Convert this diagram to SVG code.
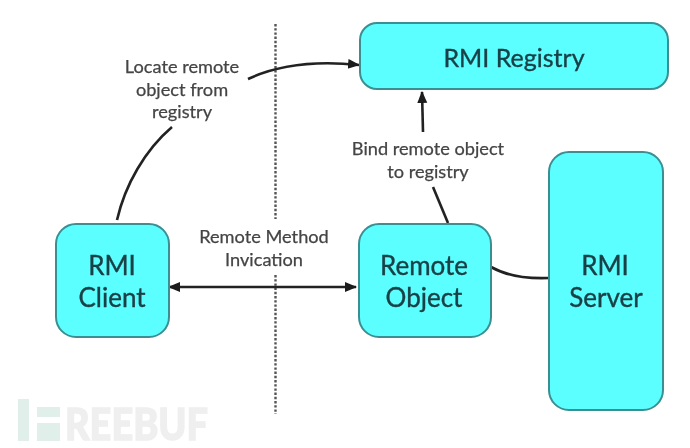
<svg xmlns="http://www.w3.org/2000/svg" width="690" height="448" viewBox="0 0 690 448">
<style>
.n{fill:#5cffff;stroke:#3a8f92;stroke-width:2}
.t{font-family:"Lato","Noto Sans",sans-serif;font-size:26px;fill:#1a4046;stroke:#1a4046;stroke-width:.35;text-anchor:middle}
.l{font-family:"Lato","Noto Sans",sans-serif;font-size:18.2px;fill:#444;stroke:#444;stroke-width:.25;text-anchor:middle}
.c{fill:none;stroke:#222;stroke-width:2.6}
.w{font-family:"Lato","Noto Sans",sans-serif;font-size:44px;font-weight:900;fill:#efefef;stroke:#efefef;stroke-width:1.4}
.b{fill:#e0efe9}
.d{stroke:#555;stroke-width:2.4;stroke-dasharray:2.4 1.8}
</style>
<defs>
<marker id="a" markerUnits="userSpaceOnUse" markerWidth="14" markerHeight="14" refX="11" refY="7" orient="auto-start-reverse"><path d="M0 2L12 7L0 12Z" fill="#1a1a1a"/></marker>
<filter id="s" filterUnits="userSpaceOnUse" x="0" y="0" width="690" height="448"><feGaussianBlur stdDeviation="0.5"/></filter>
</defs>
<rect width="690" height="448" fill="#fff"/>
<g filter="url(#s)">
<g id="watermark">
<rect class="b" x="18" y="399" width="11" height="42"/>
<rect class="b" x="37" y="407" width="23" height="10"/>
<rect class="b" x="37" y="423" width="23" height="18"/>
<text class="w" x="65" y="440" textLength="143" lengthAdjust="spacingAndGlyphs">REEBUF</text>
</g>
<g id="divider"><line class="d" x1="275.5" y1="24" x2="275.5" y2="219"/><line class="d" x1="275.5" y1="275" x2="275.5" y2="414"/></g>
<g id="connectors">
<path class="c" d="M117 220C125 185 145 150 172 127"/>
<path class="c" d="M248 79C280 64 320 61 359 65" marker-end="url(#a)"/>
<path class="c" d="M423 132L422 92" marker-end="url(#a)"/>
<path class="c" d="M433 187L448 223"/>
<path class="c" d="M169 287H356" marker-start="url(#a)" marker-end="url(#a)"/>
<path class="c" d="M491 267C507 276 525 279 549 278"/>
</g>
<g id="rmi-registry"><rect class="n" x="360" y="23" width="308" height="66" rx="17"/><text class="t" x="514" y="67" style="font-size:25px">RMI Registry</text></g>
<g id="rmi-client"><rect class="n" x="56" y="224" width="113" height="113" rx="20"/><text class="t" x="112" y="275">RMI</text><text class="t" x="112" y="307">Client</text></g>
<g id="remote-object"><rect class="n" x="359" y="224" width="132" height="113" rx="20"/><text class="t" x="424" y="275">Remote</text><text class="t" x="424" y="307">Object</text></g>
<g id="rmi-server"><rect class="n" x="549" y="152" width="114" height="258" rx="20"/><text class="t" x="605" y="275">RMI</text><text class="t" x="606" y="307">Server</text></g>
<g id="labels">
<text class="l" x="182" y="73">Locate remote</text>
<text class="l" x="182" y="96">object from</text>
<text class="l" x="182" y="118">registry</text>
<text class="l" x="428" y="155">Bind remote object</text>
<text class="l" x="428" y="178">to registry</text>
<text class="l" x="264" y="243">Remote Method</text>
<text class="l" x="264" y="266">Invication</text>
</g>
</g>
</svg>
